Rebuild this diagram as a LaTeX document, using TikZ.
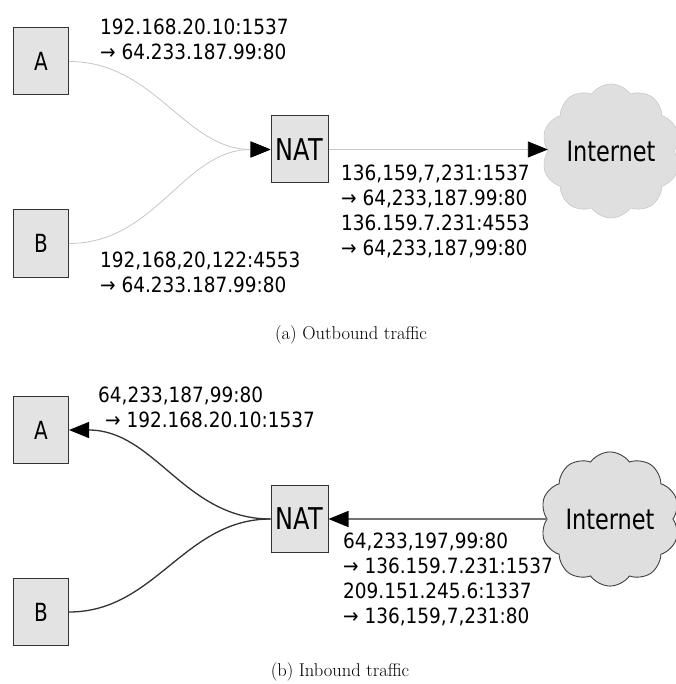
\documentclass[tikz,border=0pt]{standalone}
\usepackage{fontspec}
\usetikzlibrary{shapes.symbols,arrows.meta}
\newfontfamily\nodefnt[FakeStretch=0.8]{DejaVu Sans}
\newfontfamily\labfnt[FakeStretch=0.88]{DejaVu Sans}
\begin{document}
\begin{tikzpicture}[x=1pt,y=-1pt,
  box/.style={draw=black!80, fill=gray!22, line width=1pt, minimum width=55pt, minimum height=67pt, inner sep=0pt, font=\nodefnt\fontsize{25}{25}\selectfont},
  natbox/.style={box, minimum width=57pt, font=\nodefnt\fontsize{30}{30}\selectfont},
  cloudnode/.style={cloud, cloud puffs=10, cloud puff arc=110, aspect=1.05, minimum width=134pt, minimum height=124pt, fill=gray!25, inner sep=0pt, font=\nodefnt\fontsize{28}{28}\selectfont},
  lab/.style={font=\labfnt\fontsize{21}{25}\selectfont, align=left, anchor=north west, inner sep=0pt},
  captxt/.style={font=\fontsize{18.5}{22}\selectfont, inner sep=0pt},
  outl/.style={draw=gray!45, line width=0.8pt},
  inl/.style={draw=black!80, line width=1.3pt},
  hl/.style={draw=black!55, line width=1.5pt},
  tip/.style={-{Triangle[length=20pt,width=16pt,color=black]}}
]
\useasboundingbox (0,0) rectangle (675,684);
% ---------- (a) Outbound ----------
\node[box] (A1) at (41,61.5) {A};
\node[box] (B1) at (41,243.5) {B};
\node[natbox] (N1) at (299.5,149.5) {NAT};
\node[cloudnode, draw=gray!50] (I1) at (611,151) {Internet};
\draw[outl, tip] (A1.east) to[out=0,in=180] (N1.west);
\draw[outl, tip] (B1.east) to[out=0,in=180] (N1.west);
\draw[outl, tip] (N1.east) -- (N1.east -| I1.west);
\node[lab] (LA1) at (100,18.3) {192.168.20.10:1537\\→ 64.233.187.99:80};
\node[lab] (LB1) at (100,251.8) {192,168,20,122:4553\\→ 64.233.187.99:80};
\node[lab] (LI1) at (341,164.8) {136,159,7,231:1537\\→ 64,233,187.99:80\\136.159.7.231:4553\\→ 64,233,187,99:80};
\node[captxt] (CA) at (351,335) {(a) Outbound traffic};
% ---------- (b) Inbound ----------
\node[box] (A2) at (41,430) {A};
\node[box] (B2) at (41,612) {B};
\node[natbox] (N2) at (299.5,519) {NAT};
\node[cloudnode, draw=black!75, line width=0.9pt] (I2) at (610,519) {Internet};
\draw[inl, tip] (N2.west) to[out=180,in=0] (A2.east);
\draw[inl] (N2.west) to[out=180,in=0] (B2.east);
\draw[hl, tip] (N2.east -| I2.west) -- (N2.east);
\node[lab] (LA2) at (98,386.8) {64,233,187,99:80\\\hspace*{7pt}→ 192.168.20.10:1537};
\node[lab] (LI2) at (343,532.3) {64,233,197,99:80\\→ 136.159.7.231:1537\\209.151.245.6:1337\\→ 136,159,7,231:80};
\node[captxt] (CB) at (340,672) {(b) Inbound traffic};
\end{tikzpicture}
\end{document}
